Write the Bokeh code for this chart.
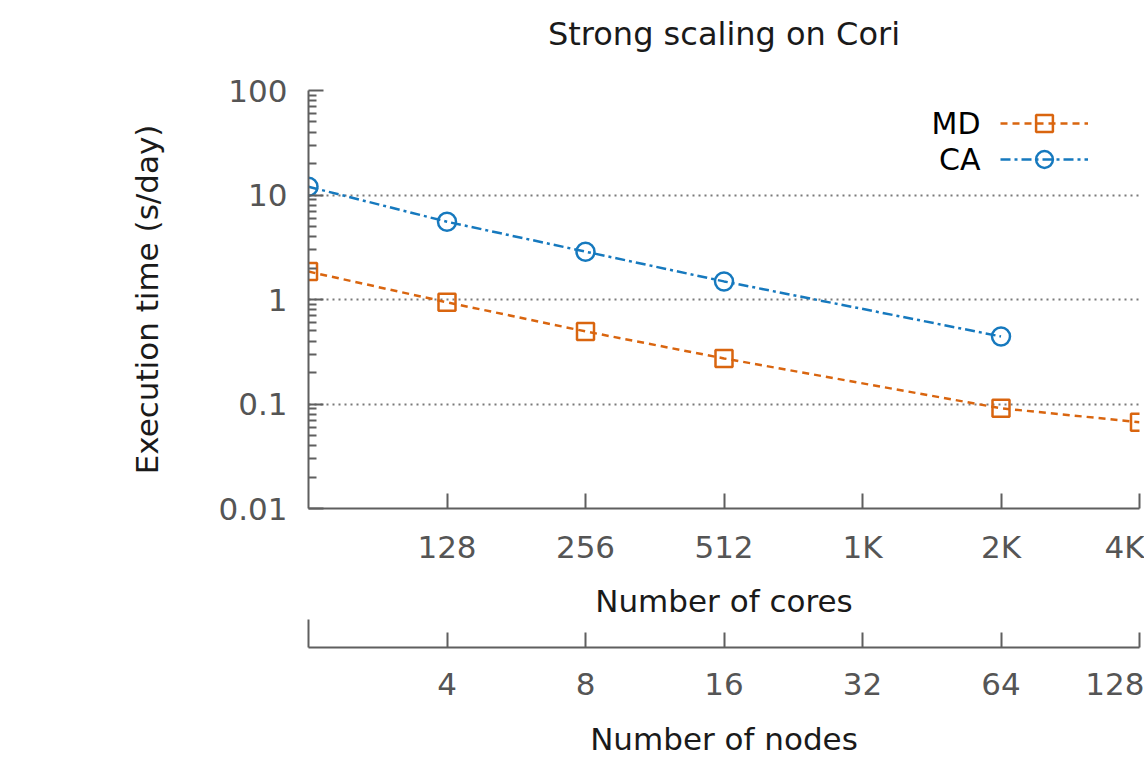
from bokeh.plotting import figure
from bokeh.models import (LogAxis, LinearAxis, FixedTicker, Range1d, LogScale,
                          Legend, LegendItem, Label)
from bokeh.core.properties import value
from bokeh.embed import file_html
from bokeh.resources import INLINE

# ---- data ----
md_cores = [64, 128, 256, 512, 2048, 4096]
md_time = [1.85, 0.94, 0.495, 0.273, 0.091, 0.067]
ca_cores = [64, 128, 256, 512, 2048]
ca_time = [12.0, 5.55, 2.87, 1.49, 0.443]

core_ticks = [128, 256, 512, 1024, 2048, 4096]
core_labels = ["128", "256", "512", "1K", "2K", "4K"]
node_ticks = [4, 8, 16, 32, 64, 128]
node_labels = ["4", "8", "16", "32", "64", "128"]
y_ticks = [0.01, 0.1, 1, 10, 100]
y_labels = ["0.01", "0.1", "1", "10", "100"]

FONT = "DejaVu Sans"
ORANGE = "#D9650F"
BLUE = "#1679BE"
AXIS = "#5f5f5f"
TICKLBL = "#555555"
TXT = "#1a1a1a"


def spacer_axis(height):
    # invisible axis used only to reserve vertical room in a side panel
    return LinearAxis(ticker=FixedTicker(ticks=[64]), major_tick_out=height, major_tick_in=0,
                      minor_tick_out=0, minor_tick_in=0, axis_line_color=None,
                      major_tick_line_color=None, minor_tick_line_color=None,
                      major_label_text_font_size="0px", major_label_standoff=0,
                      major_label_overrides={64: ""})


p = figure(width=1144, height=759, x_axis_type="log", y_axis_type="log",
           x_range=Range1d(64, 4096), y_range=Range1d(0.01, 100),
           output_backend="svg", toolbar_location=None,
           min_border_left=308, min_border_right=5, min_border_top=90,
           min_border_bottom=0)
p.outline_line_color = None
p.background_fill_color = "white"

# default axes (grab them before any extra axis is added)
ax = p.below[0]
ay = p.left[0]

# title
p.title.text = "Strong scaling on Cori"
p.title.align = "center"
p.title.text_font = FONT
p.title.text_font_size = "32px"
p.title.text_font_style = "normal"
p.title.text_color = TXT
p.title.standoff = 10

# primary x axis (cores)
ax.ticker = FixedTicker(ticks=core_ticks)
ax.major_label_overrides = dict(zip(core_ticks, core_labels))
ax.major_tick_in = 15
ax.major_tick_out = 0
ax.minor_tick_in = 0
ax.minor_tick_out = 0
ax.axis_line_color = AXIS
ax.axis_line_width = 2
ax.major_tick_line_color = AXIS
ax.major_tick_line_width = 2
ax.major_label_text_font = FONT
ax.major_label_text_font_size = "31px"
ax.major_label_text_color = TICKLBL
ax.major_label_standoff = 20
ax.axis_label = "Number of cores"
ax.axis_label_text_font = FONT
ax.axis_label_text_font_size = "31px"
ax.axis_label_text_font_style = "normal"
ax.axis_label_text_color = TXT
ax.axis_label_standoff = 15

# y axis
minor_y = [m * 10.0 ** e for e in range(-2, 2) for m in range(2, 10)]
ay.ticker = FixedTicker(ticks=y_ticks, minor_ticks=minor_y)
ay.major_label_overrides = dict(zip(y_ticks, y_labels))
ay.major_tick_in = 15
ay.major_tick_out = 0
ay.minor_tick_in = 8
ay.minor_tick_out = 0
ay.axis_line_color = AXIS
ay.axis_line_width = 2
ay.major_tick_line_color = AXIS
ay.major_tick_line_width = 2
ay.minor_tick_line_color = AXIS
ay.minor_tick_line_width = 2
ay.major_label_text_font = FONT
ay.major_label_text_font_size = "31px"
ay.major_label_text_color = TICKLBL
ay.major_label_standoff = 21
ay.axis_label = "Execution time (s/day)"
ay.axis_label_text_font = FONT
ay.axis_label_text_font_size = "31px"
ay.axis_label_text_font_style = "normal"
ay.axis_label_text_color = TXT
ay.axis_label_standoff = 50

# grid
p.xgrid.visible = False
p.ygrid.grid_line_color = "#7a7a7a"
p.ygrid.grid_line_width = 2
p.ygrid.grid_line_dash = "2 4"

# room between title and plot, and between the two bottom axes
p.add_layout(spacer_axis(33), "above")
p.add_layout(spacer_axis(26), "below")

# secondary x axis (nodes)
p.extra_x_ranges = {"nodes": Range1d(2, 128)}
p.extra_x_scales = {"nodes": LogScale()}
nax = LogAxis(x_range_name="nodes", ticker=FixedTicker(ticks=node_ticks, minor_ticks=[2]))
nax.major_label_overrides = dict(zip(node_ticks, node_labels))
nax.major_tick_in = 15
nax.major_tick_out = 0
nax.minor_tick_in = 28
nax.minor_tick_out = 0
nax.axis_line_color = AXIS
nax.axis_line_width = 2
nax.major_tick_line_color = AXIS
nax.major_tick_line_width = 2
nax.minor_tick_line_color = AXIS
nax.minor_tick_line_width = 2
nax.major_label_text_font = FONT
nax.major_label_text_font_size = "31px"
nax.major_label_text_color = TICKLBL
nax.major_label_standoff = 25
nax.axis_label = "Number of nodes"
nax.axis_label_text_font = FONT
nax.axis_label_text_font_size = "31px"
nax.axis_label_text_font_style = "normal"
nax.axis_label_text_color = TXT
nax.axis_label_standoff = 23
p.add_layout(nax, "below")

# series
md_line = p.line(md_cores, md_time, line_color=ORANGE, line_width=2.5, line_dash="7 5")
md_pts = p.scatter(md_cores, md_time, marker="square", size=17, fill_color=None,
                   line_color=ORANGE, line_width=2.5)
ca_line = p.line(ca_cores, ca_time, line_color=BLUE, line_width=2.5, line_dash="10 4 3 4")
ca_pts = p.scatter(ca_cores, ca_time, marker="circle", size=18, fill_color=None,
                   line_color=BLUE, line_width=2.5)

# legend (gnuplot style: text on the left, sample on the right)
def make_legend(renderers, loc):
    return Legend(items=[LegendItem(label=value(""), renderers=renderers)],
                  location=loc, glyph_width=88, glyph_height=42,
                  label_width=0, label_standoff=0, label_height=42, padding=0, margin=0,
                  spacing=0, background_fill_alpha=0, border_line_color=None,
                  label_text_font_size="1px")

p.add_layout(make_legend([md_line, md_pts], (692, 364)), "center")
p.add_layout(make_legend([ca_line, ca_pts], (692, 328)), "center")

for txt, yy in (("MD", 385), ("CA", 349)):
    p.add_layout(Label(x=672, y=yy, x_units="screen", y_units="screen", text=txt,
                       text_align="right", text_baseline="middle", text_font=FONT,
                       text_font_size="30px", text_color="black"))

open("out.html", "w").write(file_html(p, INLINE))
